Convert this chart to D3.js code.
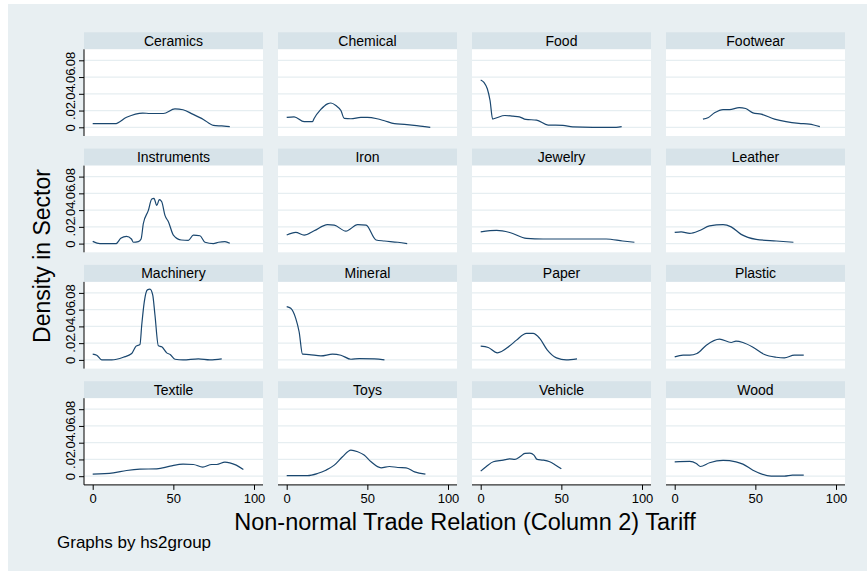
<!DOCTYPE html>
<html><head><meta charset="utf-8">
<script src="https://cdn.jsdelivr.net/npm/d3@7/dist/d3.min.js"></script>
<style>body{margin:0;background:#fff}text{font-family:"Liberation Sans",Arial,sans-serif;fill:#000}</style>
</head><body><svg id="c" width="867" height="571"></svg>
<script>
// ---- data ----
const sectors = ["Ceramics","Chemical","Food","Footwear","Instruments","Iron","Jewelry","Leather","Machinery","Mineral","Paper","Plastic","Textile","Toys","Vehicle","Wood"];
const ceramics = [[0,.0043],[13.8,.0043],[21,.012],[31,.017],[35.5,.0165],[43.8,.0165],[51,.022],[56,.021],[62,.0157],[68.6,.0094],[74.8,.0024],[80,.0016],[85,.0008]];
const chemical = [[0,.0118],[4.6,.0125],[10.8,.0067],[16,.0067],[17,.0106],[21,.021],[25.3,.028],[27.4,.029],[30.5,.026],[33.6,.020],[35.7,.0106],[39.8,.0102],[46,.0118],[50,.0118],[56,.0102],[60.6,.0078],[66.8,.0043],[73,.0035],[79,.0024],[85.5,.0008],[89,0]];
const food = [[0,.0565],[2,.0537],[4.1,.046],[5.8,.032],[7.4,.0098],[9.9,.0114],[15,.0141],[20,.0133],[24,.0125],[28,.0094],[34.6,.0086],[41.8,.0027],[51,.0024],[57,.0004],[69.5,0],[84,0],[87.4,.0008]];
const footwear = [[17.5,.0098],[20.6,.0114],[24.7,.0173],[30,.0212],[34,.0212],[40,.0235],[44,.0224],[48.5,.0173],[53.6,.0157],[61.9,.0098],[69,.0067],[77,.0047],[83.5,.0039],[90,.0008]];
const instruments = [[0,.0027],[4.5,0],[14.5,0],[17.4,.0063],[21,.0086],[24,.0055],[25.2,.0016],[28.3,.0024],[30,.0055],[31.4,.024],[34.5,.0396],[36.6,.0533],[38,.054],[39.7,.0455],[41.3,.0525],[42.8,.050],[44.8,.0337],[47,.0259],[50,.0102],[55,.0043],[59.3,.0039],[62.4,.0102],[66.5,.0094],[69.6,.0016],[74.8,0],[78,.0016],[82,.0024],[85,.0004]];
const iron = [[0,.0102],[5.6,.0133],[10.8,.0102],[17,.0153],[25.3,.0227],[29.5,.022],[36.7,.0149],[44,.0227],[49.2,.022],[55.4,.0043],[60.6,.0031],[68.9,.0016],[74.7,0]];
const jewelry = [[0,.0141],[9.9,.0157],[18,.0133],[28.4,.0063],[38.7,.0055],[59,.0055],[77.8,.0055],[88,.0031],[95.3,.0016]];
const leather = [[0,.0133],[4,.0141],[9.3,.0122],[15.5,.0157],[21.6,.0212],[30,.0227],[35,.020],[41.2,.011],[50.5,.0051],[63,.0031],[73.6,.0016]];
const machinery = [[0,.0068],[2.5,.0056],[5.6,0],[11.8,0],[19,.0032],[24.2,.0076],[26.9,.0164],[29.3,.0184],[30.4,.0416],[32,.0696],[33.9,.0836],[35.5,.0844],[37.2,.0776],[38.6,.0536],[40.7,.0168],[42.8,.0156],[45.9,.0084],[48,.0064],[51,.0008],[56,0],[65.5,.0012],[72.7,0],[80,.0012]];
const mineral = [[0,.0636],[2.5,.0616],[5.6,.0496],[7.7,.0336],[9.8,.0068],[13.9,.0064],[21.2,.0048],[28.4,.0068],[33.6,.0056],[39.8,.0008],[45,.0016],[54.4,.0012],[60.6,0]];
const paper = [[0,.0164],[4.7,.0148],[10.3,.0084],[18,.0168],[22.2,.0236],[28.4,.0316],[32.5,.0316],[36.6,.0256],[41.2,.012],[47,.0024],[53,0],[59.7,.0012]];
const plastic = [[0,.0036],[5.2,.0056],[9.3,.0056],[13.8,.0076],[19.6,.0176],[27.8,.0248],[35,.0208],[38,.0224],[42.3,.0208],[48.5,.0152],[55.7,.0064],[62.9,.0032],[68,.0024],[74.2,.0056],[80,.0056]];
const textile = [[0,.0024],[12.8,.004],[21,.0068],[29.3,.0084],[39.7,.0088],[48,.012],[56,.0144],[62.4,.014],[68.2,.0108],[73.8,.014],[76.9,.014],[82,.0168],[85,.016],[89,.0132],[93.4,.008]];
const toys = [[0,.0008],[12.9,.0008],[19,.0032],[24.3,.0072],[29.5,.0132],[34.6,.0232],[39.8,.0312],[44,.0292],[48,.0252],[52.3,.0172],[58.5,.010],[63.7,.0116],[68.9,.0104],[74,.010],[79.3,.0052],[86,.0024]];
const vehicle = [[0,.006],[3.7,.012],[7.8,.0172],[14,.0192],[18,.0208],[21.2,.020],[24.3,.0232],[27.4,.0272],[30.5,.0276],[33,.0252],[35,.020],[38.7,.0192],[42.8,.0172],[46.5,.0132],[50,.0088]];
const wood = [[0,.0172],[9.3,.0176],[13.4,.0152],[15.9,.0116],[21.6,.016],[30,.0188],[38,.0172],[42.3,.0144],[48.5,.0072],[59.8,0],[68,0],[73,.0012],[80,.0012]];
const yTicks = [0,.02,.04,.06,.08];
const yTickLabels = ["0",".02",".04",".06",".08"];
const xTicks = [0,50,100];
const xTickLabels = ["0","50","100"];
const yTitle = "Density in Sector";
const xTitle = "Non-normal Trade Relation (Column 2) Tariff";
const note = "Graphs by hs2group";

const seriesList = [ceramics,chemical,food,footwear,instruments,iron,jewelry,leather,machinery,mineral,paper,plastic,textile,toys,vehicle,wood];

// ---- layout ----
const svg = d3.select("#c");
svg.append("rect").attr("x",8).attr("y",4).attr("width",859).attr("height",567).attr("fill","#e8eff2");

const colLeft = c => 84 + c*194;
const panelW = 179;
const zeroY = r => 127.3 + r*116.3;

const line = d3.line().curve(d3.curveMonotoneX);

sectors.forEach((name,i) => {
  const r = Math.floor(i/4), c = i%4;
  const L = colLeft(c), z = zeroY(r);
  const x = d3.scaleLinear().domain([0,100]).range([L+8.7, L+170]);
  const y = d3.scaleLinear().domain([0,.08]).range([z, z-67]);
  const plotTop = z-78, plotBot = z+8.7;
  const g = svg.append("g");
  // strip
  g.append("rect").attr("x",L).attr("y",z-95).attr("width",panelW).attr("height",17).attr("fill","#d7e3e9");
  g.append("text").attr("x",L+panelW/2).attr("y",z-81.5).attr("text-anchor","middle").attr("font-size",14).text(name);
  // plot area
  g.append("rect").attr("x",L).attr("y",plotTop).attr("width",panelW).attr("height",plotBot-plotTop).attr("fill","#fff");
  // grid
  g.selectAll(".grid").data(yTicks).join("line")
    .attr("x1",L).attr("x2",L+panelW).attr("y1",d=>y(d)).attr("y2",d=>y(d))
    .attr("stroke","#e6eef1").attr("stroke-width",1.2);
  // curve
  g.append("path").attr("d", line(seriesList[i].map(p=>[x(p[0]), y(p[1])])))
    .attr("fill","none").attr("stroke","#1a476f").attr("stroke-width",1.2);
  // y axis
  if (c===0) {
    const ay = g.append("g").attr("transform",`translate(${L},0)`)
      .call(d3.axisLeft(y).tickValues(yTicks).tickFormat((d,k)=>yTickLabels[k]).tickSize(5).tickSizeOuter(0));
    ay.select(".domain").remove();
    ay.selectAll(".tick line").attr("stroke","#000");
    ay.selectAll(".tick text").attr("transform","rotate(-90)").attr("x",0).attr("y",-9.5).attr("dy",0)
      .attr("text-anchor","middle").attr("font-size",13).attr("font-family",null).style("fill","#000");
    g.append("line").attr("x1",L).attr("x2",L).attr("y1",plotTop).attr("y2",plotBot).attr("stroke","#000").attr("stroke-width",1);
  }
  if (r===3) {
    const ax = g.append("g").attr("transform",`translate(0,${plotBot})`)
      .call(d3.axisBottom(x).tickValues(xTicks).tickFormat((d,k)=>xTickLabels[k]).tickSize(5).tickSizeOuter(0));
    ax.select(".domain").remove();
    ax.selectAll(".tick line").attr("stroke","#000");
    ax.selectAll(".tick text").attr("y",9).attr("font-size",13).attr("font-family",null).style("fill","#000");
    g.append("line").attr("x1",L).attr("x2",L+panelW).attr("y1",plotBot).attr("y2",plotBot).attr("stroke","#000").attr("stroke-width",1);
  }
});

svg.append("text").attr("transform","translate(50,256) rotate(-90)").attr("text-anchor","middle").attr("font-size",23).text(yTitle);
svg.append("text").attr("x",465).attr("y",530).attr("text-anchor","middle").attr("font-size",23.5).text(xTitle);
svg.append("text").attr("x",57).attr("y",548).attr("font-size",17).text(note);
</script></body></html>
